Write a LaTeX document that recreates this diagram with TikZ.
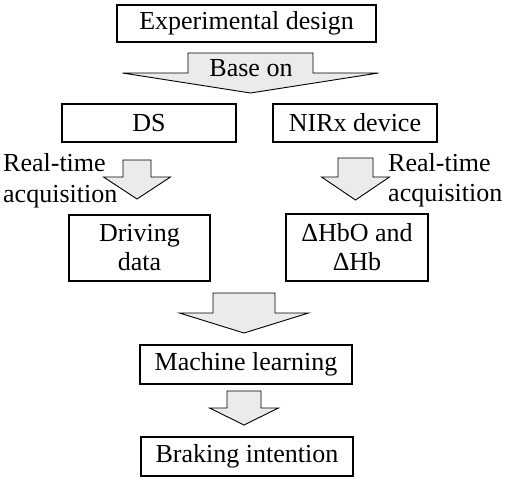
\documentclass[tikz,border=0pt]{standalone}
\usepackage{fontspec}
\setmainfont{Liberation Serif}
\tikzset{
  box/.style={draw=black, line width=2pt, fill=white, inner sep=0pt, align=center,
              font=\fontsize{26}{29}\selectfont},
  blk/.style={draw=black, line width=0.9pt, fill=black!8, line join=miter},
  lbl/.style={inner sep=0pt, align=left, font=\fontsize{26}{30.5}\selectfont},
}
% block arrow: centre x, top y, shaft half width, head half width, head y, tip y
\newcommand{\blockarr}[6]{%
  \draw[blk] (#1-#3,#2) -- (#1+#3,#2) -- (#1+#3,#5) -- (#1+#4,#5) -- (#1,#6)
    -- (#1-#4,#5) -- (#1-#3,#5) -- cycle;}
\begin{document}
\begin{tikzpicture}[x=1pt,y=-1pt]
\useasboundingbox (0,0) rectangle (505,481);
% boxes
\node[box, minimum width=259, minimum height=37] (exp) at (246.5,23.5) {Experimental design};
\node[box, minimum width=174, minimum height=38] (ds) at (149,123) {DS};
\node[box, minimum width=164, minimum height=38] (nirx) at (355,123) {NIRx device};
\node[box, minimum width=141, minimum height=66] (drv) at (139.5,248) {Driving\\data};
\node[box, minimum width=142, minimum height=67] (hb) at (357,247.5) {ΔHbO and\\ΔHb};
\node[box, minimum width=212, minimum height=39] (ml) at (246,364.5) {Machine learning};
\node[box, minimum width=212, minimum height=39] (bi) at (247,456.5) {Braking intention};
% block arrows
\blockarr{250.5}{53}{62.5}{128}{73}{93}
\node[lbl, anchor=base] (base) at (251,77) {Base on};
\blockarr{137}{160}{14}{33.5}{177}{199}
\blockarr{355.5}{158}{17.5}{34}{177}{200}
\blockarr{244}{293}{31}{64.5}{313}{333}
\blockarr{244}{391}{17}{34.5}{408}{425}
% side labels
\node[lbl, anchor=base west] (l1) at (3,202) {Real-time\\acquisition};
\node[lbl, anchor=base west] (l2) at (388,201.5) {Real-time\\acquisition};
\end{tikzpicture}
\end{document}
